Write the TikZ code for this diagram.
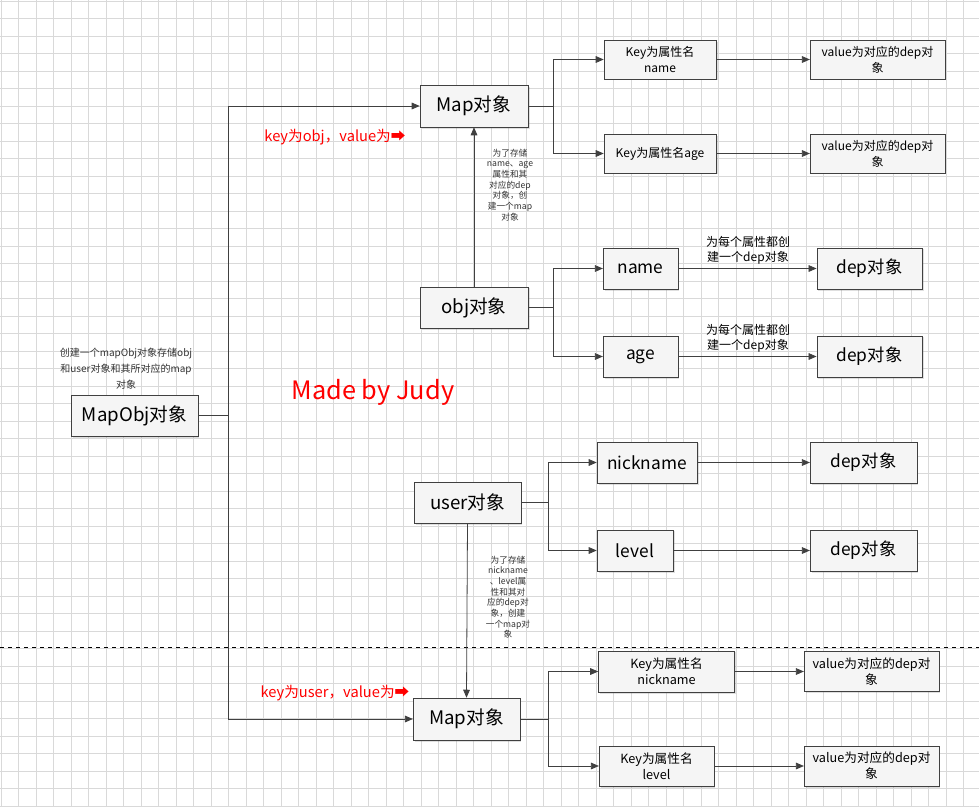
\documentclass[tikz,border=0pt]{standalone}
\usepackage{fontspec}
\setmainfont{Noto Sans CJK SC}
\usetikzlibrary{arrows.meta,shadows}
\begin{document}
\begin{tikzpicture}[x=0.75pt,y=-0.75pt,
  box/.style={draw=black!75,fill=black!4,drop shadow={shadow xshift=1.2pt,shadow yshift=-1.2pt,opacity=0.25},inner sep=0pt,align=center},
  conn/.style={draw=black!75,line width=0.6pt},
  arr/.style={conn,-{Triangle[length=6pt,width=5pt]}},
  note/.style={align=center,font=\fontsize{6.5}{8}\selectfont,text=black!80},
  redl/.style={text=red,font=\fontsize{11}{13}\selectfont}]
\useasboundingbox (0,0) rectangle (979,807);
\fill[white] (0,0) rectangle (979,807);
\foreach \i in {0,...,56} {\draw[black!15,line width=0.4pt] (\i*17.5+1,0) -- (\i*17.5+1,807);}
\foreach \i in {0,...,46} {\draw[black!15,line width=0.4pt] (0,\i*17.5+1) -- (979,\i*17.5+1);}
\draw[dashed,line width=0.6pt] (0,647) -- (979,647);
% nodes
\node[box,minimum width=95pt,minimum height=31pt,font=\fontsize{14}{16}\selectfont] (mapobj) at (134.5,415.5) {MapObj对象};
\node[box,minimum width=81pt,minimum height=31.5pt,font=\fontsize{14}{16}\selectfont] (map1) at (474,106) {Map对象};
\node[box,minimum width=81pt,minimum height=31pt,font=\fontsize{14}{16}\selectfont] (obj) at (474,307.5) {obj对象};
\node[box,minimum width=84pt,minimum height=29pt,font=\fontsize{9}{12}\selectfont] (kname) at (660,59.5) {Key为属性名\\name};
\node[box,minimum width=84pt,minimum height=29pt,font=\fontsize{9}{12}\selectfont] (kage) at (660,153.5) {Key为属性名age};
\node[box,minimum width=101pt,minimum height=29pt,font=\fontsize{9}{12}\selectfont] (v1) at (877.5,59.5) {value为对应的dep对\\象};
\node[box,minimum width=101pt,minimum height=29pt,font=\fontsize{9}{12}\selectfont] (v2) at (877.5,153.5) {value为对应的dep对\\象};
\node[box,minimum width=56pt,minimum height=31pt,font=\fontsize{13}{15}\selectfont] (name) at (640.5,268.5) {name};
\node[box,minimum width=79pt,minimum height=31pt,font=\fontsize{13}{15}\selectfont] (dep1) at (869.5,268.5) {dep对象};
\node[box,minimum width=56pt,minimum height=31pt,font=\fontsize{13}{15}\selectfont] (age) at (640.5,356.5) {age};
\node[box,minimum width=79pt,minimum height=31pt,font=\fontsize{13}{15}\selectfont] (dep2) at (869.5,356.5) {dep对象};
\node[box,minimum width=80pt,minimum height=31pt,font=\fontsize{14}{16}\selectfont] (user) at (467.5,502.5) {user对象};
\node[box,minimum width=75pt,minimum height=31pt,font=\fontsize{13}{15}\selectfont] (nick) at (647,462.5) {nickname};
\node[box,minimum width=80pt,minimum height=31pt,font=\fontsize{13}{15}\selectfont] (dep3) at (863.5,462.5) {dep对象};
\node[box,minimum width=57pt,minimum height=31pt,font=\fontsize{13}{15}\selectfont] (level) at (635,550.5) {level};
\node[box,minimum width=80pt,minimum height=31pt,font=\fontsize{13}{15}\selectfont] (dep4) at (863.5,550.5) {dep对象};
\node[box,minimum width=80pt,minimum height=31.5pt,font=\fontsize{14}{16}\selectfont] (map2) at (466.5,719) {Map对象};
\node[box,minimum width=102pt,minimum height=31pt,font=\fontsize{9.5}{12}\selectfont] (knick) at (666.5,671.5) {Key为属性名\\nickname};
\node[box,minimum width=101pt,minimum height=30pt,font=\fontsize{9.5}{12}\selectfont] (vn) at (871.5,671.5) {value为对应的dep对\\象};
\node[box,minimum width=86pt,minimum height=30pt,font=\fontsize{9.5}{12}\selectfont] (klevel) at (656.5,766) {Key为属性名\\level};
\node[box,minimum width=101pt,minimum height=30pt,font=\fontsize{9.5}{12}\selectfont] (vl) at (871.5,766) {value为对应的dep对\\象};
% texts
\node[note,font=\fontsize{7.5}{12}\selectfont] (t1) at (126,369) {创建一个mapObj对象存储obj\\和user对象和其所对应的map\\对象};
\node[note] (t2) at (510,185) {为了存储\\name、age\\属性和其\\对应的dep\\对象，创\\建一个map\\对象};
\node[note] (t3) at (508,597) {为了存储\\nickname\\、level属\\性和其对\\应的dep对\\象，创建\\一个map对\\象};
\node[note,font=\fontsize{9}{11}\selectfont,text=black] (t4) at (748,250) {为每个属性都创\\建一个dep对象};
\node[note,font=\fontsize{9}{11}\selectfont,text=black] (t5) at (748,338) {为每个属性都创\\建一个dep对象};
\node[redl] (r1) at (335,137) {key为obj，value为➡};
\node[redl] (r2) at (335,693) {key为user，value为➡};
\node[text=red,font=\fontsize{19}{22}\selectfont] (judy) at (373,392) {Made by Judy};
% connectors
\coordinate (j) at (228,415.5);
\draw[conn] (mapobj.east) -- (j);
\draw[arr] (j) |- (map1.west);
\draw[arr] (j) |- (map2.west);
\draw[arr] (obj.north) -- (map1.south);
\draw[arr] (user.south) -- (map2.north);
\draw[arr] (map1.east) -- ++(25,0) |- (kname.west);
\draw[arr] (map1.east) -- ++(25,0) |- (kage.west);
\draw[arr] (obj.east) -- ++(25,0) |- (name.west);
\draw[arr] (obj.east) -- ++(25,0) |- (age.west);
\draw[arr] (user.east) -- ++(27,0) |- (nick.west);
\draw[arr] (user.east) -- ++(27,0) |- (level.west);
\draw[arr] (map2.east) -- ++(28,0) |- (knick.west);
\draw[arr] (map2.east) -- ++(28,0) |- (klevel.west);
\draw[arr] (kname) -- (v1);
\draw[arr] (kage) -- (v2);
\draw[arr] (name) -- (dep1);
\draw[arr] (age) -- (dep2);
\draw[arr] (nick) -- (dep3);
\draw[arr] (level) -- (dep4);
\draw[arr] (knick) -- (vn);
\draw[arr] (klevel) -- (vl);
\end{tikzpicture}
\end{document}
